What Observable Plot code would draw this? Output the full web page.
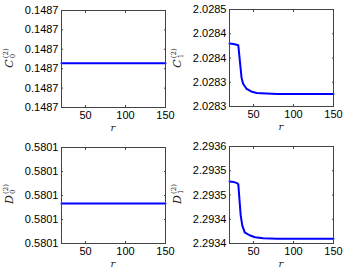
<!DOCTYPE html>
<html><head><meta charset="utf-8">
<script src="https://cdn.jsdelivr.net/npm/d3@7"></script>
<script src="https://cdn.jsdelivr.net/npm/@observablehq/plot@0.6"></script>
<style>
body{margin:0;background:#fff;}
#wrap{position:relative;width:346px;height:268px;overflow:hidden;background:#fff;}
.panel{position:absolute;}
.ylab{position:absolute;transform:translate(-50%,-50%) rotate(-90deg);font-family:"DejaVu Serif","Liberation Serif",serif;font-size:11px;white-space:nowrap;color:#222;line-height:1;}
.ylab i{font-style:italic;}
.ss{display:inline-block;vertical-align:middle;font-size:7px;line-height:1;text-align:left;margin-left:1px;}
.ss span{display:block;}
.xlab{position:absolute;transform:translate(-50%,-50%);font-family:"DejaVu Serif","Liberation Serif",serif;font-style:italic;font-size:10px;color:#222;}
</style></head>
<body><div id="wrap"></div>
<script>
// x axis
const rTicks = [50, 100, 150];
const rDomain = [20, 150];

// C0 (constant)
const rC0 = [20, 150];
const c0 = [0.14872285, 0.14872285];
const c0Ticks = [0.14870, 0.14871, 0.14872, 0.14873, 0.14874, 0.14875];
const c0Labels = ["0.1487", "0.1487", "0.1487", "0.1487", "0.1487", "0.1487"];

// C1
const rC1 = [20, 25, 30, 31, 34, 35, 37, 41, 47, 54, 66, 80, 100, 150];
const c1 = [2.028430, 2.028429, 2.028427, 2.028426, 2.028377, 2.028360, 2.028347, 2.028337, 2.028331, 2.028328, 2.028327, 2.028326, 2.028326, 2.028326];
const c1Ticks = [2.02830, 2.02835, 2.02840, 2.02845, 2.02850];
const c1Labels = ["2.0283", "2.0283", "2.0284", "2.0284", "2.0285"];

// D0 (constant)
const rD0 = [20, 150];
const d0 = [0.58011668, 0.58011668];
const d0Ticks = [0.58010, 0.58011, 0.58012, 0.58013, 0.58014];
const d0Labels = ["0.5801", "0.5801", "0.5801", "0.5801", "0.5801"];

// D1
const rD1 = [20, 25, 30, 31, 34, 36, 39, 45, 52, 62, 80, 100, 150];
const d1 = [2.293528, 2.293527, 2.293524, 2.293522, 2.293458, 2.293437, 2.293423, 2.293417, 2.293413, 2.293411, 2.293410, 2.293410, 2.293410];
const d1Ticks = [2.29340, 2.29345, 2.29350, 2.29355, 2.29360];
const d1Labels = ["2.2934", "2.2934", "2.2935", "2.2935", "2.2936"];

const wrap = document.getElementById("wrap");

function panel({left, top, w, h, ml, mr, mt, mb, xs, ys, yTicks, yLabels, sym, sub, labX, labY}) {
  const data = xs.map((x, i) => ({r: x, v: ys[i]}));
  const fmt = v => { const i = yTicks.findIndex(t => Math.abs(t - v) < 1e-9); return i >= 0 ? yLabels[i] : ""; };
  const chart = Plot.plot({
    width: w, height: h,
    marginLeft: ml, marginRight: mr, marginTop: mt, marginBottom: mb,
    style: {fontFamily: "'Liberation Sans', Arial, sans-serif", fontSize: "11px", color: "#000", background: "transparent", overflow: "visible"},
    x: {domain: rDomain},
    y: {domain: [yTicks[0], yTicks[yTicks.length - 1]]},
    marks: [
      Plot.axisX({ticks: rTicks, tickSize: -2, tickPadding: 6, label: null, stroke: "#444", fill: "#000"}),
      Plot.axisX({anchor: "top", ticks: rTicks, tickSize: -2, tickFormat: () => "", label: null, stroke: "#444"}),
      Plot.axisY({ticks: yTicks, tickFormat: fmt, tickSize: -2, tickPadding: 5, label: null, stroke: "#444", fill: "#000"}),
      Plot.axisY({anchor: "right", ticks: yTicks, tickSize: -2, tickFormat: () => "", label: null, stroke: "#444"}),
      Plot.line(data, {x: "r", y: "v", stroke: "#0000ff", strokeWidth: 2}),
      Plot.frame({stroke: "#444", strokeWidth: 1})
    ]
  });
  const div = document.createElement("div");
  div.className = "panel";
  div.style.left = left + "px"; div.style.top = top + "px";
  div.appendChild(chart);
  wrap.appendChild(div);

  const yl = document.createElement("div");
  yl.className = "ylab";
  yl.style.left = labX + "px"; yl.style.top = labY + "px";
  yl.innerHTML = `<i>${sym}</i><span class="ss"><span>(2)</span><span>${sub}</span></span>`;
  wrap.appendChild(yl);

  const xl = document.createElement("div");
  xl.className = "xlab";
  xl.textContent = "r";
  xl.style.left = (left + ml + (w - ml - mr) / 2) + "px";
  xl.style.top = (top + h - mb + 20) + "px";
  wrap.appendChild(xl);
}

panel({left: 0, top: 0, w: 173, h: 134, ml: 61, mr: 8, mt: 10, mb: 27, xs: rC0, ys: c0, yTicks: c0Ticks, yLabels: c0Labels, sym: "C", sub: "0", labX: 10, labY: 58});
panel({left: 173, top: 0, w: 173, h: 134, ml: 56, mr: 13, mt: 9, mb: 28, xs: rC1, ys: c1, yTicks: c1Ticks, yLabels: c1Labels, sym: "C", sub: "1", labX: 178, labY: 58});
panel({left: 0, top: 134, w: 173, h: 134, ml: 61, mr: 8, mt: 13, mb: 25, xs: rD0, ys: d0, yTicks: d0Ticks, yLabels: d0Labels, sym: "D", sub: "0", labX: 10, labY: 194});
panel({left: 173, top: 134, w: 173, h: 134, ml: 56, mr: 13, mt: 12, mb: 25, xs: rD1, ys: d1, yTicks: d1Ticks, yLabels: d1Labels, sym: "D", sub: "1", labX: 178, labY: 194});
</script></body></html>
